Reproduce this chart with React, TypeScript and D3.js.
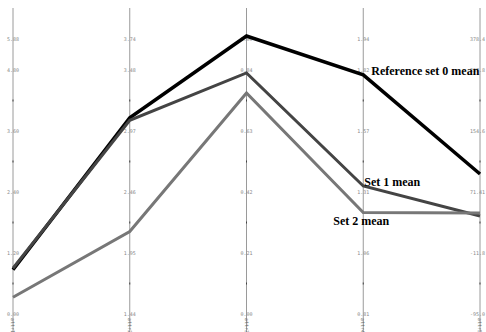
import React from "react";
import * as d3 from "d3";

// axes (parallel coordinates)
const dims = ["a1", "a2", "a3", "a4", "a5"];
const axisMin = [0, 1.44, 0, 0.81, -95.0];
const axisStep = [1.2, 0.51, 0.21, 0.2525, 83.2];
const tickLabels = [
  ["0.00", "1.20", "2.40", "3.60", "4.80"],
  ["1.44", "1.95", "2.46", "2.97", "3.48"],
  ["0.00", "0.21", "0.42", "0.63", "0.84"],
  ["0.81", "1.06", "1.31", "1.57", "1.82"],
  ["-95.0", "-11.8", "71.41", "154.6", "237.8"],
];
const maxLabels = ["5.88", "3.74", "1.00", "1.94", "378.4"];

// series means
const seriesNames = ["Reference set 0 mean", "Set 1 mean", "Set 2 mean"];
const ref0 = [0.87, 3.08, 0.957, 1.8, 96];
const set1 = [0.9, 3.06, 0.83, 1.34, 38.7];
const set2 = [0.33, 2.13, 0.761, 1.23, 42.8];

const W = 486;
const H = 332;
const bottom = 314;
const tickGap = 61;

export default function App() {
  const x = d3.scalePoint<string>().domain(dims).range([13, 480]);
  const ys = dims.map((_, i) =>
    d3
      .scaleLinear()
      .domain([axisMin[i], axisMin[i] + axisStep[i] * 5])
      .range([bottom, bottom - tickGap * 5])
  );

  const line = d3
    .line<number>()
    .x((_, i) => x(dims[i])!)
    .y((v, i) => ys[i](v));

  const series = [
    { vals: ref0, color: "#000", w: 3.5 },
    { vals: set1, color: "#444", w: 3 },
    { vals: set2, color: "#777", w: 3 },
  ];

  const x4 = x(dims[3])!;
  const labelPos = [
    { dx: 8, dy: 0, y: ys[3](ref0[3]) },
    { dx: 1, dy: 0, y: ys[3](set1[3]) },
    { dx: -30, dy: 12, y: ys[3](set2[3]) },
  ];

  const last = dims.length - 1;

  return (
    <svg
      width={W}
      height={H}
      style={{ position: "absolute", left: 0, top: 0, background: "#fff" }}
    >
      {dims.map((d, i) => {
        const ax = x(d)!;
        const lx = i === last ? W - 1 : ax;
        const anchor = i === last ? "end" : "middle";
        return (
          <g key={d}>
            <line x1={ax} x2={ax} y1={8} y2={H} stroke="#9a9a9a" strokeWidth={1} />
            {d3.range(4).map((k) => (
              <rect
                key={k}
                x={ax - 0.5}
                y={bottom - tickGap * (k + 0.5) - 1}
                width={1}
                height={2}
                fill="#444"
              />
            ))}
            {tickLabels[i].map((t, k) => (
              <text
                key={t}
                x={lx}
                y={bottom - tickGap * k + 2}
                textAnchor={anchor}
                fontFamily="DejaVu Sans Mono"
                fontSize={5}
                fill="#888"
              >
                {t}
              </text>
            ))}
            <text
              x={lx}
              y={41}
              textAnchor={anchor}
              fontFamily="DejaVu Sans Mono"
              fontSize={5}
              fill="#888"
            >
              {maxLabels[i]}
            </text>
            <text
              transform={`translate(${ax - 2},${318}) rotate(90)`}
              fontFamily="DejaVu Sans Mono"
              fontSize={5}
              fill="#666"
            >
              {"attr" + (i + 1)}
            </text>
          </g>
        );
      })}
      {series.map((s, i) => (
        <path
          key={i}
          d={line(s.vals)!}
          fill="none"
          stroke={s.color}
          strokeWidth={s.w}
          strokeLinejoin="miter"
        />
      ))}
      {seriesNames.map((n, i) => (
        <text
          key={n}
          x={x4 + labelPos[i].dx}
          y={labelPos[i].y + labelPos[i].dy}
          fontFamily="Liberation Serif"
          fontWeight="bold"
          fontSize={12}
          fill="#000"
        >
          {n}
        </text>
      ))}
    </svg>
  );
}
